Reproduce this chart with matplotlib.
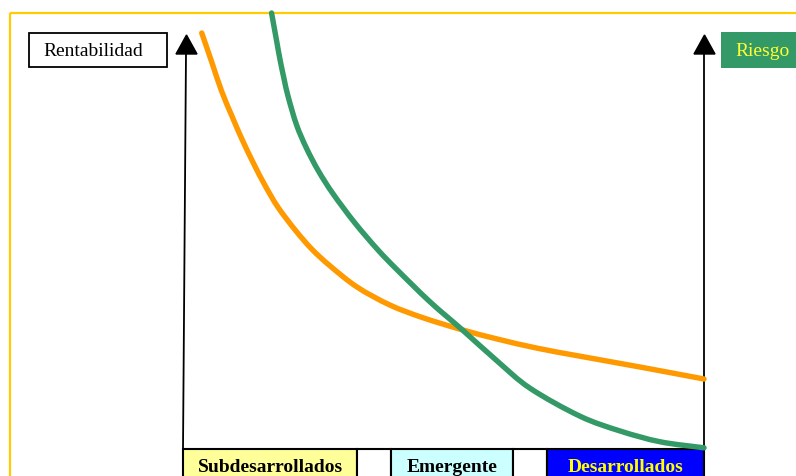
# Curvas de rentabilidad y riesgo segun nivel de desarrollo
import matplotlib.pyplot as plt
from matplotlib.patches import Rectangle, Polygon, PathPatch
from matplotlib.path import Path

# Datos (x: nivel de desarrollo 0-100, y: 0-100)
x_rent = [3.6, 5.5, 7.4, 9.4, 11.3, 13.5, 15.7, 18.2, 21.5, 24.7, 28.2, 33.4,
          39.7, 46.1, 53.6, 60.3, 68.0, 76.2, 87.7, 100]
y_rent = [104.0, 96.8, 89.5, 83.2, 77.5, 71.5, 66.0, 60.5, 54.8, 50.0, 45.8, 40.5,
          36.0, 32.8, 29.8, 27.5, 25.2, 23.2, 20.5, 17.5]

x_riesgo = [17.0, 18.0, 18.6, 19.4, 20.2, 21.8, 23.7, 26.0, 28.8, 33.0, 37.4, 41.1,
            47.4, 53.6, 60.3, 66.6, 76.2, 83.9, 91.6, 100]
y_riesgo = [109.0, 101.8, 97.5, 92.5, 88.0, 81.0, 75.2, 69.5, 63.8, 56.5, 49.8, 44.8,
            36.8, 29.8, 22.0, 15.2, 8.2, 4.5, 1.8, 0.3]

categorias = ['Subdesarrollados', '', 'Emergente', '', 'Desarrollados']
limites = [0, 33.4, 39.9, 63.3, 69.8, 100]   # bordes de cada casilla en x

etiqueta_y1 = 'Rentabilidad'
etiqueta_y2 = 'Riesgo'

naranja = '#FF9900'
verde = '#339966'
fondo_cat = ['#FFFF99', 'white', '#CCFFFF', 'white', '#0000FF']
texto_cat = ['black', 'black', 'black', 'black', '#FFFF00']


def trazo_suave(xs, ys):
    # curva Bezier que pasa por los puntos (Catmull-Rom)
    pts = list(zip(xs, ys))
    verts = [pts[0]]
    codes = [Path.MOVETO]
    for i in range(len(pts) - 1):
        p0 = pts[i - 1] if i > 0 else pts[i]
        p1 = pts[i]
        p2 = pts[i + 1]
        p3 = pts[i + 2] if i + 2 < len(pts) else pts[i + 1]
        c1 = (p1[0] + (p2[0] - p0[0]) / 6, p1[1] + (p2[1] - p0[1]) / 6)
        c2 = (p2[0] - (p3[0] - p1[0]) / 6, p2[1] - (p3[1] - p1[1]) / 6)
        verts += [c1, c2, p2]
        codes += [Path.CURVE4] * 3
    return Path(verts, codes)


W, H = 796, 477
fig = plt.figure(figsize=(W / 100, H / 100), dpi=100)

# Capa en pixeles para marco, cajas y flechas
bg = fig.add_axes([0, 0, 1, 1])
bg.set_xlim(0, W)
bg.set_ylim(H, 0)
bg.axis('off')

# Marco amarillo
bg.add_patch(Rectangle((9.5, 14), 820, 500, fill=False, ec='#FFCC00', lw=1.6))

# Ejes con flecha
x0, x1, yb = 183, 704, 450
bg.plot([183, 186], [yb, 54], color='black', lw=1.3)
bg.add_patch(Polygon([[176, 55], [197, 55], [186.5, 36]], color='black'))
bg.plot([704, 704], [yb, 54], color='black', lw=1.3)
bg.add_patch(Polygon([[694, 55], [715, 55], [704.5, 36]], color='black'))
bg.plot([x0, x1], [yb, yb], color='black', lw=1.3)

# Cajas de texto
bg.add_patch(Rectangle((29, 34), 138, 34, fill=False, ec='black', lw=1.3))
bg.text(93.5, 51, etiqueta_y1, ha='center', va='center', fontsize=14,
        family='Liberation Serif', color='black')
bg.add_patch(Rectangle((721, 33), 100, 36, fc=verde, ec='none'))
bg.text(762.5, 51, etiqueta_y2, ha='center', va='center', fontsize=14,
        family='Liberation Serif', color='#FFFF33')

# Categorias abajo
esc = (x1 - x0) / 100
for i, cat in enumerate(categorias):
    a = x0 + limites[i] * esc
    b = x0 + limites[i + 1] * esc
    bg.add_patch(Rectangle((a, yb), b - a, 40, fc=fondo_cat[i], ec='black', lw=1.5))
    if cat:
        bg.text((a + b) / 2, 468, cat, ha='center', va='center', fontsize=14,
                family='Liberation Serif', weight='bold', color=texto_cat[i])

# Curvas
ax = fig.add_axes([x0 / W, (H - yb) / H, (x1 - x0) / W, 400 / H])
ax.set_xlim(0, 100)
ax.set_ylim(0, 100)
ax.axis('off')
for xs, ys, col in [(x_rent, y_rent, naranja), (x_riesgo, y_riesgo, verde)]:
    ax.add_patch(PathPatch(trazo_suave(xs, ys), fill=False, ec=col, lw=3.9,
                           capstyle='round', joinstyle='round', clip_on=False))

fig.savefig('out.png', dpi=100)
